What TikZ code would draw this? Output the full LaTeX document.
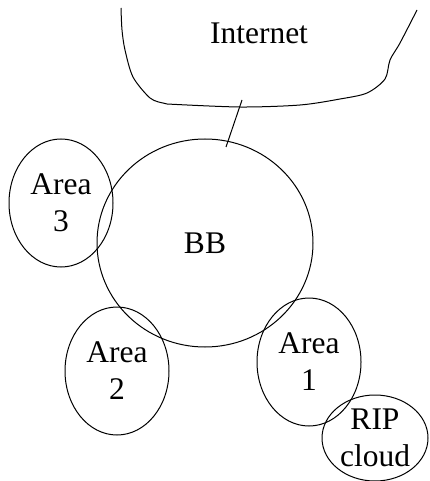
\documentclass[tikz,border=0pt]{standalone}
\usepackage{fontspec}
\setmainfont{Liberation Serif}
\usetikzlibrary{shapes.geometric}
\begin{document}
\begin{tikzpicture}[x=1pt,y=-1pt,line width=1pt,
  lbl/.style={font=\fontsize{31.5}{37}\selectfont,align=center},
  area/.style={draw,ellipse,inner sep=0pt,minimum width=104pt,minimum height=128pt,lbl}]
\useasboundingbox (0,0) rectangle (429,481);
% Internet cloud outline
\draw plot[smooth,tension=0.5] coordinates {(121,8) (122,30) (125,50) (133,77) (150,98) (163,103)}
      -- (167,104)
      plot[smooth,tension=0.5] coordinates {(167,104) (240,107) (300,105) (340,99) (367,93) (385,79) (390,60) (400,43) (417,10)};
\node[lbl] (inet) at (259,33) {Internet};
% Backbone
\node[draw,ellipse,inner sep=0pt,minimum width=216pt,minimum height=208pt,lbl] (bb) at (205,243) {BB};
\node[area] (a3) at (61,203) {Area\\3};
\node[area] (a2) at (117,371) {Area\\2};
\node[area] (a1) at (309,362) {Area\\1};
\node[draw,ellipse,inner sep=0pt,minimum width=106pt,minimum height=86pt,lbl] (rip) at (375,438) {RIP\\cloud};
\coordinate (ltop) at (242,100);
\coordinate (lbot) at (226,147);
\draw (ltop) -- (lbot);
\end{tikzpicture}
\end{document}
